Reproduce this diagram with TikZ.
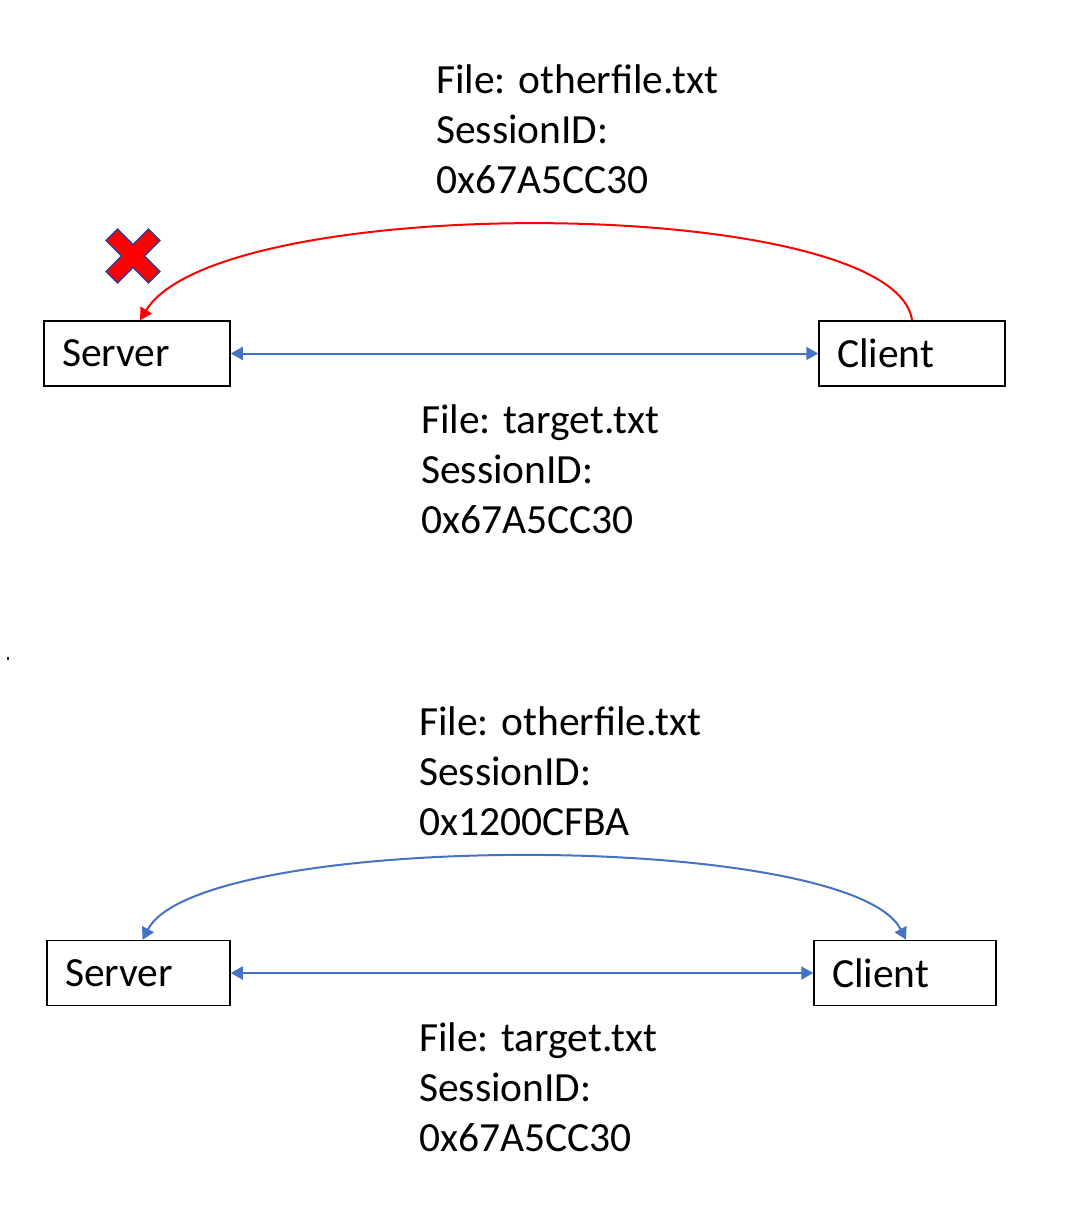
\documentclass[tikz,border=0pt]{standalone}
\usepackage{fontspec}
\setmainfont{Carlito}
\usetikzlibrary{arrows.meta}
\definecolor{lineblue}{HTML}{4472C4}
\definecolor{xborder}{HTML}{2F3F8F}
\begin{document}
\begin{tikzpicture}[x=1pt,y=-1pt,
  box/.style={draw=black,line width=1.5pt,minimum width=186pt,minimum height=65pt,
    text width=150pt,align=left,inner sep=0pt,font=\fontsize{41.5}{46}\selectfont},
  lbl/.style={anchor=north west,inner sep=0pt,align=left,font=\fontsize{41.5}{50}\selectfont},
  tip/.style={Triangle[width=13pt,length=12pt]},
  conn/.style={line width=2pt,lineblue,{Triangle[width=13pt,length=12pt]}-{Triangle[width=13pt,length=12pt]}},
  curvearr/.style={line width=2pt,-{Triangle[width=13pt,length=12pt]}}
]
\useasboundingbox (0,0) rectangle (1084,1214);
% top pair
\node[box] (s1) at (137,353.5) {Server};
\node[box] (c1) at (912,353.5) {Client};
\draw[conn] (s1.east) -- (c1.west);
\draw[curvearr,red] (c1.north) .. controls (895,195) and (220,190) .. ([xshift=3pt]s1.north);
% red cross
\filldraw[fill=red,draw=xborder,line width=1.5pt,rotate around={45:(133,256)}]
  (125,226) -- (141,226) -- (141,248) -- (163,248) -- (163,264) -- (141,264)
  -- (141,286) -- (125,286) -- (125,264) -- (103,264) -- (103,248) -- (125,248) -- cycle;
\node[lbl] (t1) at (436,64) {File: otherfile.txt\\SessionID:\\0x67A5CC30};
\node[lbl] (t2) at (421,404) {File: target.txt\\SessionID:\\0x67A5CC30};
% stray dot
\fill (7,657) rectangle (9,660);
% bottom pair
\node[box,minimum width=183pt,text width=147pt] (s2) at (138.5,973) {Server};
\node[box,minimum width=182pt,text width=146pt] (c2) at (905,973) {Client};
\draw[conn] (s2.east) -- (c2.west);
\draw[conn]
  ([xshift=4pt]s2.north) .. controls (200,830) and (850,830) .. ([xshift=1pt]c2.north);
\node[lbl] (t3) at (419,706) {File: otherfile.txt\\SessionID:\\0x1200CFBA};
\node[lbl] (t4) at (419,1022) {File: target.txt\\SessionID:\\0x67A5CC30};
\end{tikzpicture}
\end{document}
